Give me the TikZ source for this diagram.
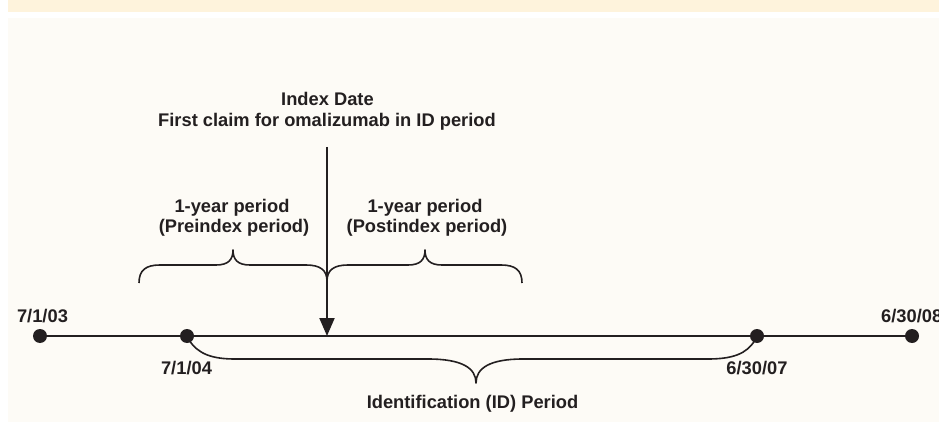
\documentclass[tikz,border=0pt]{standalone}
\usepackage{fontspec}
\setmainfont{Liberation Sans}
\usetikzlibrary{arrows.meta}
\definecolor{band}{HTML}{FEF3DC}
\definecolor{paper}{HTML}{FDFBF6}
\definecolor{ink}{HTML}{231F20}
\begin{document}
\begin{tikzpicture}[x=1pt,y=-1pt,
  lbl/.style={inner sep=0pt,anchor=base,text=ink,font=\bfseries\fontsize{18.3}{22}\selectfont},
  dot/.style={circle,fill=ink,draw=none,minimum size=14pt,inner sep=0pt},
  line/.style={draw=ink,line width=2pt},
  bracepath/.style={draw=ink,line width=1.6pt,line join=round}]
\useasboundingbox (0,0) rectangle (939,422);
\fill[white] (0,0) rectangle (939,422);
\fill[band] (8,0) rectangle (939,12);
\fill[paper] (8,18) rectangle (939,422);
% dots
\node[dot] (a) at (40,336) {};
\node[dot] (b) at (187,336) {};
\node[dot] (c) at (757,336) {};
\node[dot] (d) at (912,336) {};
\draw[line] (a) -- (b) -- (c) -- (d);
% index arrow
\coordinate (top) at (327,147);
\coordinate (idx) at (327,336);
\draw[line,-{Triangle[width=15pt,length=18pt]}] (top) -- (idx);
% labels
\node[lbl] (t1) at (327.5,106) {Index Date};
\node[lbl] (t2) at (327,127) {First claim for omalizumab in ID period};
\node[lbl] (p1) at (232,212) {1-year period};
\node[lbl] (p2) at (234,233) {(Preindex period)};
\node[lbl] (q1) at (425,212) {1-year period};
\node[lbl] (q2) at (427,233) {(Postindex period)};
\node[lbl] (la) at (42.5,322) {7/1/03};
\node[lbl,anchor=base west] (ld) at (881,322) {6/30/08};
\node[lbl] (lb) at (186.5,374) {7/1/04};
\node[lbl] (lc) at (757,374) {6/30/07};
\node[lbl] (lid) at (472.5,408) {Identification (ID) Period};
% top braces
\draw[bracepath] (139,283) .. controls (139,270) and (146,265) .. (160,265)
  -- (216,265) .. controls (228,265) and (233,260) .. (233,250)
  .. controls (233,260) and (238,265) .. (250,265)
  -- (306,265) .. controls (320,265) and (327,270) .. (327,281);
\draw[bracepath] (327,281) .. controls (327,270) and (334,265) .. (348,265)
  -- (408,265) .. controls (420,265) and (425,260) .. (425,250)
  .. controls (425,260) and (430,265) .. (442,265)
  -- (501,265) .. controls (515,265) and (522,270) .. (522,283);
% bottom brace
\draw[bracepath] (189,340) .. controls (198,354) and (212,359) .. (235,359)
  -- (428,359) .. controls (462,359) and (476,368) .. (476,383)
  .. controls (476,368) and (490,359) .. (523,359)
  -- (708,359) .. controls (732,359) and (747,354) .. (755,340);
\end{tikzpicture}
\end{document}
